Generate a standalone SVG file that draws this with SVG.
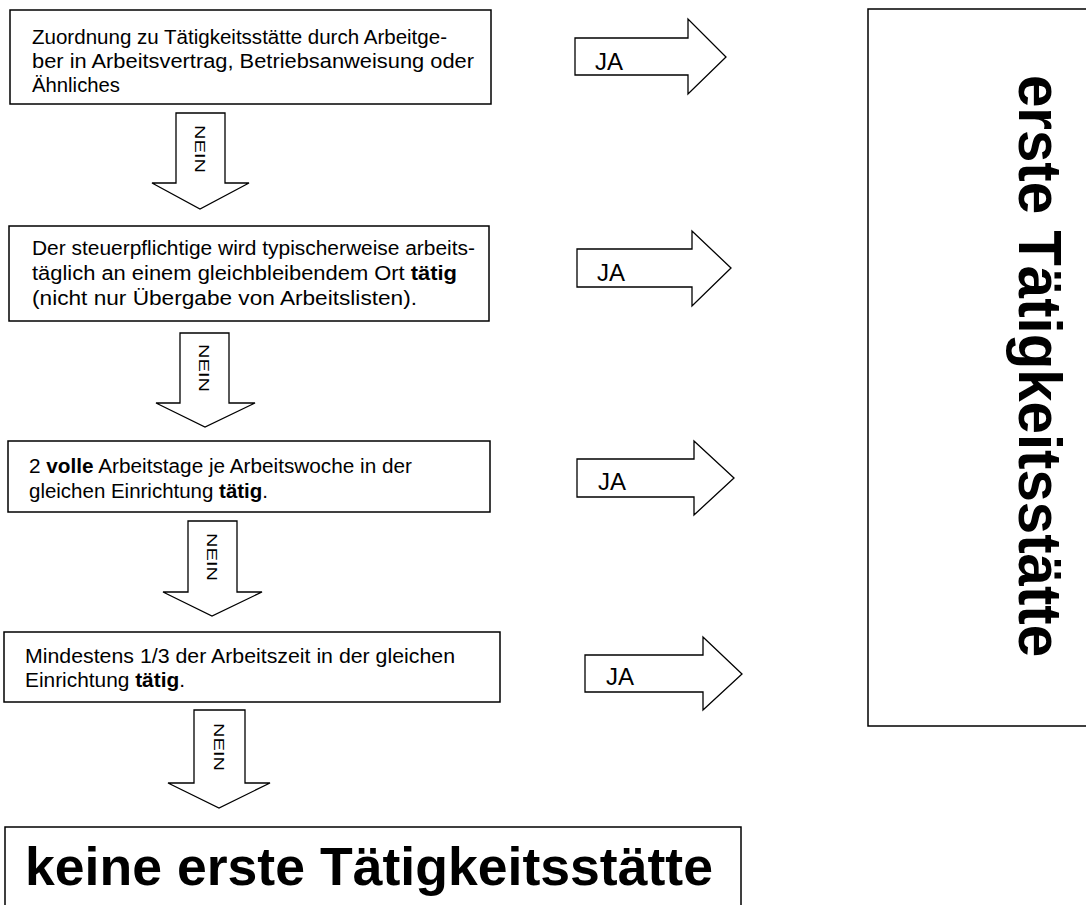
<svg xmlns="http://www.w3.org/2000/svg" width="1086" height="905" viewBox="0 0 1086 905">
<style>
.box{fill:#fff;stroke:#000;stroke-width:1.5}
.arr{fill:#fff;stroke:#000;stroke-width:1.3;stroke-linejoin:miter}
.t{font-family:"Liberation Sans",Arial,sans-serif;font-size:20px;fill:#000}
.b{font-weight:bold}
.ja{font-family:"Liberation Sans",Arial,sans-serif;font-size:24px;fill:#000}
.nein{font-family:"Liberation Sans",Arial,sans-serif;font-size:14px;fill:#000}
.big{font-family:"Liberation Sans",Arial,sans-serif;font-weight:bold;fill:#000}
</style>
<rect width="1086" height="905" fill="#fff"/>
<g id="q1">
<rect class="box" x="10" y="10" width="481" height="94"/>
<text class="t" x="32" y="44" textLength="415" lengthAdjust="spacingAndGlyphs">Zuordnung zu Tätigkeitsstätte durch Arbeitge-</text>
<text class="t" x="32" y="68" textLength="442" lengthAdjust="spacingAndGlyphs">ber in Arbeitsvertrag, Betriebsanweisung oder</text>
<text class="t" x="32" y="92" textLength="88" lengthAdjust="spacingAndGlyphs">Ähnliches</text>
</g>
<g id="q2">
<rect class="box" x="9" y="226" width="480" height="95"/>
<text class="t" x="32" y="255" textLength="443" lengthAdjust="spacingAndGlyphs">Der steuerpflichtige wird typischerweise arbeits-</text>
<text class="t" x="32" y="280" textLength="425" lengthAdjust="spacingAndGlyphs">täglich an einem gleichbleibendem Ort <tspan class="b">tätig</tspan></text>
<text class="t" x="32" y="305" textLength="385" lengthAdjust="spacingAndGlyphs">(nicht nur Übergabe von Arbeitslisten).</text>
</g>
<g id="q3">
<rect class="box" x="8" y="441" width="482" height="71"/>
<text class="t" x="29" y="473" textLength="383" lengthAdjust="spacingAndGlyphs">2 <tspan class="b">volle</tspan> Arbeitstage je Arbeitswoche in der</text>
<text class="t" x="29" y="498" textLength="239" lengthAdjust="spacingAndGlyphs">gleichen Einrichtung <tspan class="b">tätig</tspan>.</text>
</g>
<g id="q4">
<rect class="box" x="4" y="632" width="496" height="70"/>
<text class="t" x="25" y="663" textLength="430" lengthAdjust="spacingAndGlyphs">Mindestens 1/3 der Arbeitszeit in der gleichen</text>
<text class="t" x="25" y="687" textLength="160" lengthAdjust="spacingAndGlyphs">Einrichtung <tspan class="b">tätig</tspan>.</text>
</g>
<g id="result-no">
<rect class="box" x="5" y="827" width="736" height="90"/>
<text class="big" x="25" y="885" font-size="54" textLength="688" lengthAdjust="spacingAndGlyphs">keine erste Tätigkeitsstätte</text>
</g>
<g id="result-yes">
<rect class="box" x="868" y="9" width="230" height="717"/>
<text class="big" font-size="61" transform="translate(1019,75) rotate(90)" textLength="582" lengthAdjust="spacingAndGlyphs">erste Tätigkeitsstätte</text>
</g>
<g id="connectors">
<polygon class="arr" points="575,38 688,38 688,19 726,57 688,94 688,75 575,75"/>
<text class="ja" x="595" y="70">JA</text>
<polygon class="arr" points="577,249 692,249 692,231 731,268 692,306 692,287 577,287"/>
<text class="ja" x="597" y="281">JA</text>
<polygon class="arr" points="577,459 694,459 694,441 734,478 694,515 694,497 577,497"/>
<text class="ja" x="598" y="490">JA</text>
<polygon class="arr" points="585,655 703,655 703,637 742,674 703,710 703,692 585,692"/>
<text class="ja" x="606" y="685">JA</text>
<polygon class="arr" points="176,113 225,113 225,183 249,183 200,209 152,183 176,183"/>
<text class="nein" transform="translate(195,125) rotate(90)" textLength="48" lengthAdjust="spacingAndGlyphs">NEIN</text>
<polygon class="arr" points="180,333 229,333 229,403 255,403 205,427 156,403 180,403"/>
<text class="nein" transform="translate(199,344) rotate(90)" textLength="48" lengthAdjust="spacingAndGlyphs">NEIN</text>
<polygon class="arr" points="188,521 237,521 237,592 262,592 212,616 163,592 188,592"/>
<text class="nein" transform="translate(207,533) rotate(90)" textLength="48" lengthAdjust="spacingAndGlyphs">NEIN</text>
<polygon class="arr" points="194,710 245,710 245,783 270,783 219,808 168,783 194,783"/>
<text class="nein" transform="translate(214,723) rotate(90)" textLength="48" lengthAdjust="spacingAndGlyphs">NEIN</text>
</g>
</svg>
